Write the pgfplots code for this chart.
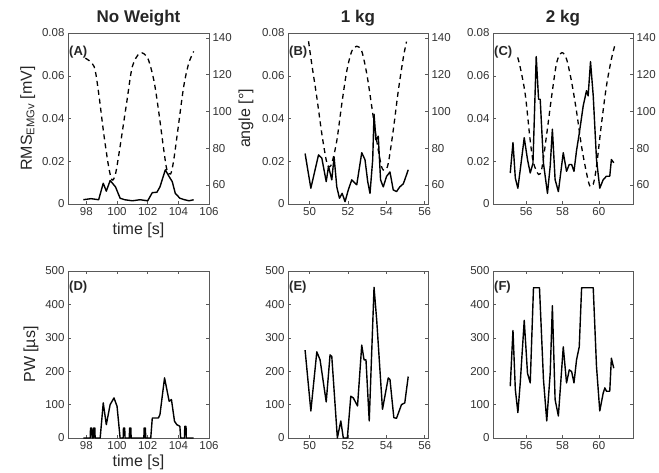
\documentclass[border=0pt]{standalone}
\usepackage{fontspec}
\setmainfont{Liberation Sans}
\usepackage{pgfplots}
\usepackage{pgfplotstable}
\pgfplotsset{compat=1.18}

% RMS EMG (solid) and joint angle (dashed), three loads
\pgfplotstableread{
t v
97.8 0.002
98.3 0.0025
98.8 0.002
99.1 0.0097
99.3 0.006
99.55 0.011
99.9 0.008
100.2 0.0027
100.5 0.002
101.0 0.0015
101.5 0.002
102.0 0.0015
102.3 0.0053
102.6 0.0055
102.8 0.008
103.15 0.016
103.4 0.0128
103.6 0.0105
103.8 0.005
104.1 0.0027
104.4 0.002
104.7 0.0015
105.0 0.002
}\rmsA
\pgfplotstableread{
t v
97.93 129
98.5 124.5
98.8 110
99.13 88
99.45 70
99.67 62.7
99.9 66
100.2 81
100.65 106
101.0 124.5
101.5 131.8
102.0 129
102.4 117
102.7 101
103.05 79
103.26 68
103.5 66
103.7 73.6
104.0 92
104.35 113.6
104.67 126
105.0 132.7
}\angA
\pgfplotstableread{
t v
97.8 0
98.25 0
98.27 30
98.35 30
98.37 0
98.45 0
98.47 30
98.55 30
98.57 0
98.9 0
99.1 105
99.3 40
99.55 100
99.8 120
100.0 95
100.2 0
100.4 0
100.42 30
100.5 30
100.52 0
100.8 0
100.82 30
100.9 30
100.92 0
101.75 0
101.77 30
101.85 30
101.87 0
102.2 0
102.3 60
102.7 60
102.8 70
103.1 180
103.4 110
103.55 115
103.75 50
103.9 40
104.1 35
104.15 0
104.4 0
104.42 35
104.5 35
104.52 0
105.0 0
}\pwA
\pgfplotstableread{
t v
49.77 0.0236
50.07 0.0074
50.47 0.023
50.64 0.0215
50.87 0.0105
50.99 0.0176
51.16 0.0113
51.28 0.022
51.42 0.008
51.56 0.0027
51.7 0.005
51.85 0.0011
52.02 0.0066
52.2 0.0113
52.46 0.009
52.72 0.024
52.89 0.0207
53.03 0.0105
53.15 0.005
53.29 0.0207
53.36 0.042
53.46 0.030
53.58 0.0317
53.7 0.0113
53.84 0.008
54.01 0.0129
54.19 0.015
54.36 0.0066
54.53 0.0058
54.7 0.008
54.88 0.0094
54.96 0.0113
55.14 0.016
}\rmsB
\pgfplotstableread{
t v
49.95 138.2
50.12 125.6
50.38 107.7
50.64 87.9
50.87 73.5
50.99 69.9
51.16 71.7
51.42 84
51.68 104
51.94 122
52.2 132.8
52.46 135.5
52.72 132.8
52.99 120
53.25 102
53.5 84
53.75 70
53.93 68
54.1 71.7
54.36 89.7
54.62 111
54.88 129
55.05 138
}\angB
\pgfplotstableread{
t v
49.77 263
50.07 81
50.38 258
50.55 234
50.87 108
51.07 249
51.16 244
51.45 0
51.63 51
51.76 0
51.97 0
52.15 125
52.28 120
52.5 96
52.72 278
52.84 234
52.94 234
53.11 51
53.36 451
53.5 352
53.8 86
54.1 180
54.19 175
54.39 61
54.53 59
54.79 100
54.96 105
55.14 184
}\pwB
\pgfplotstableread{
t v
55.12 0.0145
55.27 0.0287
55.4 0.0121
55.54 0.0074
55.67 0.016
55.89 0.031
56.07 0.0208
56.22 0.0145
56.37 0.019
56.55 0.069
56.68 0.049
56.77 0.049
56.95 0.019
57.17 0.005
57.32 0.0177
57.44 0.035
57.59 0.0114
57.77 0.0058
58.04 0.024
58.22 0.0153
58.37 0.0185
58.5 0.0185
58.63 0.0153
58.77 0.025
58.92 0.033
59.14 0.046
59.32 0.053
59.41 0.0506
59.54 0.0666
59.69 0.0506
59.87 0.0208
60.05 0.0074
60.24 0.0114
60.42 0.013
60.6 0.013
60.69 0.0208
60.82 0.0193
}\rmsC
\pgfplotstableread{
t v
55.53 129.4
55.67 124
55.95 109
56.22 84
56.4 72
56.68 65.7
56.86 69
57.13 87.8
57.41 109
57.68 126.7
57.96 132
58.22 128.5
58.5 116
58.77 100
59.05 80.7
59.32 66.5
59.5 59.5
59.69 60.4
59.87 70
60.14 93
60.42 114
60.69 128.5
60.87 135.6
}\angC
\pgfplotstableread{
t v
55.12 155
55.27 322
55.4 145
55.54 76
55.67 165
55.89 352
56.07 194
56.22 165
56.4 450
56.73 450
56.95 175
57.13 51
57.32 194
57.44 396
57.59 115
57.77 66
58.04 273
58.22 165
58.37 204
58.5 199
58.63 165
58.77 234
58.92 273
59.05 450
59.69 450
59.87 214
60.05 81
60.24 135
60.33 150
60.42 140
60.6 140
60.69 239
60.82 209
}\pwC

\tikzset{
  ttl/.style={font=\bfseries\fontsize{17}{19}\selectfont, text=black!85},
  tag/.style={font=\bfseries\fontsize{13}{15}\selectfont, anchor=west, inner sep=0pt, text=black!85},
  solidline/.style={black, line width=1.4pt, line join=round},
  dashline/.style={black, line width=1.3pt, dash pattern=on 5pt off 4pt, smooth, tension=0.5},
}

\begin{document}
\begin{tikzpicture}
\useasboundingbox (0,0) rectangle (659pt,472pt);
\pgfplotsset{
  /pgf/number format/assume math mode=true,
  base/.style={
    scale only axis, anchor=south west, clip mode=individual,
    tick align=inside, major tick length=3pt, scaled ticks=false,
    axis line style={black!65}, tick style={black!65, line width=0.5pt},
    tick label style={font=\fontsize{11.5}{13}\selectfont, text=black!80},
    label style={font=\fontsize{16}{18}\selectfont, text=black!85},
  },
  toppanel/.style={base, height=171pt, ymin=0, ymax=0.08,
    ytick={0,0.02,0.04,0.06,0.08}, yticklabels={0,0.02,0.04,0.06,0.08},
    ytick pos=left, xtick pos=lower},
  topright/.style={base, height=171pt, ymin=49.6, ymax=142.7,
    ytick={60,80,...,140}, axis y line*=right, axis x line=none},
  botpanel/.style={base, height=167pt, ymin=0, ymax=500,
    ytick={0,100,...,500}},
}
% ---------- top row ----------
\begin{axis}[toppanel, at={(68pt,268pt)}, width=141pt, xmin=96.8, xmax=106,
  xtick={98,100,...,106}, xlabel={time [s]}, ylabel={RMS\textsubscript{EMGv} [mV]}]
\addplot[solidline] table {\rmsA};
\node[ttl] at (rel axis cs:0.5,1) [yshift=15pt] {No Weight};
\node[tag] at (rel axis cs:0,1) [yshift=-19pt, xshift=1pt] {(A)};
\end{axis}
\begin{axis}[topright, at={(68pt,268pt)}, width=141pt, xmin=96.8, xmax=106,
  ylabel={angle [°]}]
\addplot[dashline] table {\angA};
\end{axis}

\begin{axis}[toppanel, at={(288pt,268pt)}, width=140pt, xmin=48.88, xmax=56.17,
  xtick={50,52,...,56}]
\addplot[solidline] table {\rmsB};
\node[ttl] at (rel axis cs:0.5,1) [yshift=15pt] {1 kg};
\node[tag] at (rel axis cs:0,1) [yshift=-19pt, xshift=1pt] {(B)};
\end{axis}
\begin{axis}[topright, at={(288pt,268pt)}, width=140pt, xmin=48.88, xmax=56.17]
\addplot[dashline] table {\angB};
\end{axis}

\begin{axis}[toppanel, at={(493pt,268pt)}, width=140pt, xmin=54.17, xmax=61.88,
  xtick={56,58,60}]
\addplot[solidline] table {\rmsC};
\node[ttl] at (rel axis cs:0.5,1) [yshift=15pt] {2 kg};
\node[tag] at (rel axis cs:0,1) [yshift=-19pt, xshift=1pt] {(C)};
\end{axis}
\begin{axis}[topright, at={(493pt,268pt)}, width=140pt, xmin=54.17, xmax=61.88]
\addplot[dashline] table {\angC};
\end{axis}

% ---------- bottom row ----------
\begin{axis}[botpanel, at={(68pt,34pt)}, width=141pt, xmin=96.8, xmax=106,
  xtick={98,100,...,106}, xlabel={time [s]}, ylabel={PW [µs]},
  xlabel style={yshift=2pt}]
\addplot[solidline] table {\pwA};
\node[tag] at (rel axis cs:0,1) [yshift=-16.5pt, xshift=1pt] {(D)};
\end{axis}

\begin{axis}[botpanel, at={(288pt,34pt)}, width=140pt, xmin=48.88, xmax=56.17,
  xtick={50,52,...,56}]
\addplot[solidline] table {\pwB};
\node[tag] at (rel axis cs:0,1) [yshift=-16.5pt, xshift=1pt] {(E)};
\end{axis}

\begin{axis}[botpanel, at={(493pt,34pt)}, width=140pt, xmin=54.17, xmax=61.88,
  xtick={56,58,60}]
\addplot[solidline] table {\pwC};
\node[tag] at (rel axis cs:0,1) [yshift=-16.5pt, xshift=1pt] {(F)};
\end{axis}
\end{tikzpicture}
\end{document}
